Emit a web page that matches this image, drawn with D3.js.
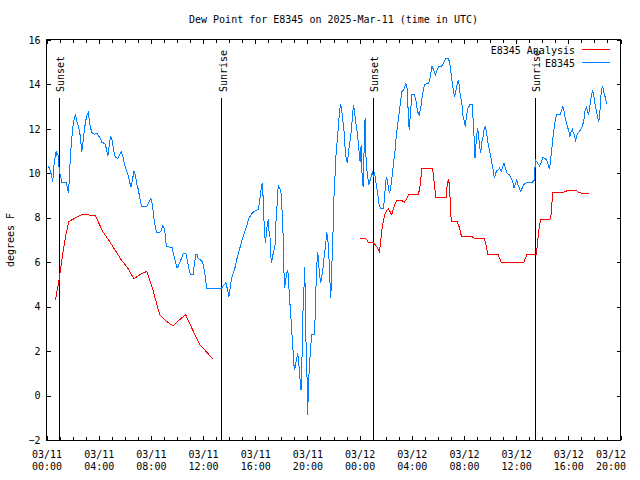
<!DOCTYPE html>
<html><head><meta charset="utf-8">
<script src="https://cdn.jsdelivr.net/npm/d3@7"></script>
<style>body{margin:0;background:#fff}svg{display:block}text{font-family:"DejaVu Sans Mono",monospace;font-size:10px;fill:#000}</style>
</head><body>
<script>
// Hours since 2025-03-11 00:00 UTC
const obsHours = [0.15,0.31,0.41,0.48,0.56,0.67,0.75,0.79,0.87,0.94,1.02,1.18,1.51,1.59,1.69,1.79,1.90,2.02,2.15,2.23,2.33,2.46,2.56,2.67,2.71,2.82,2.92,3.02,3.13,3.20,3.28,3.38,3.51,3.69,3.89,3.99,4.15,4.25,4.48,4.61,4.71,4.82,4.92,5.05,5.12,5.22,5.32,5.45,5.61,5.74,5.86,5.99,6.12,6.24,6.37,6.47,6.58,6.71,6.81,6.91,7.01,7.14,7.27,7.53,7.70,7.86,7.99,8.06,8.16,8.27,8.43,8.68,8.81,8.93,9.06,9.19,9.62,9.75,9.88,10.01,10.14,10.35,10.47,10.68,10.78,10.91,11.04,11.24,11.31,11.44,11.54,11.62,11.81,11.96,12.06,12.19,12.27,13.42,13.54,13.67,13.75,13.85,13.98,14.06,14.19,14.31,14.44,14.57,14.69,14.82,14.95,15.08,15.21,15.34,15.46,15.59,15.72,15.84,15.98,16.11,16.23,16.31,16.41,16.49,16.57,16.64,16.74,16.80,16.84,16.92,17.00,17.05,17.13,17.20,17.26,17.30,17.41,17.51,17.61,17.72,17.76,17.87,17.97,18.07,18.15,18.20,18.26,18.30,18.41,18.49,18.56,18.61,18.72,18.79,18.87,18.95,19.02,19.10,19.18,19.26,19.33,19.41,19.45,19.51,19.56,19.64,19.69,19.74,19.79,19.84,19.89,19.97,20.02,20.07,20.15,20.25,20.33,20.53,20.58,20.64,20.71,20.79,20.84,20.89,20.97,21.02,21.10,21.18,21.27,21.35,21.43,21.48,21.53,21.61,21.68,21.74,21.79,21.84,21.91,21.99,22.04,22.12,22.20,22.30,22.40,22.50,22.56,22.63,22.71,22.81,22.89,22.96,23.06,23.14,23.22,23.33,23.43,23.53,23.61,23.68,23.79,23.89,23.96,24.04,24.12,24.19,24.27,24.32,24.37,24.42,24.45,24.50,24.60,24.71,24.81,24.91,24.98,25.06,25.14,25.25,25.35,25.45,25.52,25.63,25.83,25.91,25.98,26.06,26.14,26.21,26.29,26.37,26.44,26.52,26.60,26.71,26.80,26.90,27.01,27.11,27.24,27.37,27.55,27.63,27.80,27.88,28.01,28.21,28.34,28.44,28.57,28.70,28.82,28.98,29.29,29.42,29.55,29.67,29.80,29.93,30.05,30.24,30.36,30.49,30.62,30.82,30.95,31.05,31.18,31.28,31.39,31.49,31.59,31.67,31.74,31.85,31.93,32.00,32.10,32.20,32.31,32.49,32.62,32.69,32.74,32.80,32.85,32.90,32.97,33.05,33.13,33.20,33.28,33.39,33.46,33.54,33.62,33.72,33.82,33.95,34.05,34.16,34.26,34.33,34.41,34.51,34.62,34.72,34.85,34.97,35.08,35.18,35.31,35.48,35.61,35.74,35.84,35.94,36.04,36.15,36.25,36.35,36.46,36.56,36.71,36.87,37.23,37.40,37.43,37.48,37.56,37.66,37.79,37.92,38.04,38.19,38.33,38.46,38.56,38.63,38.71,38.79,38.89,38.99,39.09,39.35,39.46,39.58,39.66,39.73,39.84,39.94,40.04,40.12,40.22,40.30,40.38,40.48,40.55,40.63,40.73,40.84,40.94,41.07,41.19,41.27,41.37,41.45,41.55,41.63,41.71,41.78,41.86,41.94,42.04,42.14,42.22,42.32,42.40,42.47,42.55,42.63,42.70,42.78,42.88,42.93];
const obsDewF = [10.33,10.07,9.85,9.62,10.3,10.75,11.02,10.83,10.9,10.38,10.03,9.6,9.6,9.37,9.1,10.3,11.35,12.1,12.55,12.63,12.33,12.1,11.8,11.2,10.97,11.5,12.03,12.4,12.67,12.73,12.4,12.03,11.8,11.76,11.8,11.68,11.55,11.38,11.35,11.05,10.78,11.35,11.68,11.43,11.13,10.83,10.72,10.66,10.83,10.97,10.75,10.38,10.15,9.93,9.62,9.37,9.7,10.1,9.93,9.55,9.33,8.95,8.53,8.53,8.53,8.72,8.87,8.8,8.35,7.83,7.33,7.33,7.45,7.65,7.45,6.7,6.67,6.33,6.02,5.73,5.88,6.18,6.4,6.4,6.1,5.73,5.43,5.43,5.8,6.33,6.37,6.18,6.1,6.02,5.73,5.28,4.83,4.83,4.93,5.02,5.08,4.83,4.45,4.75,5.28,5.5,5.73,6.1,6.33,6.63,6.92,7.15,7.38,7.6,7.9,8.05,8.17,8.25,8.3,8.35,8.38,8.65,9.1,9.48,9.52,8.2,7.15,6.85,7.3,7.68,7.93,7.45,7.15,6.25,5.95,6.18,6.47,6.7,8.05,8.95,9.48,9.33,9.18,8.2,7.0,5.57,4.83,5.05,5.5,5.65,5.2,4.53,3.7,2.95,2.35,1.45,1.15,1.45,1.67,1.9,1.52,1.0,0.55,0.25,1.15,2.95,4.75,4.9,5.8,4.45,2.5,0.85,-0.87,0.25,1.3,2.2,2.73,2.73,3.33,4.6,5.8,6.47,6.18,5.73,5.28,5.05,5.35,5.65,6.18,6.55,7.0,7.38,7.15,6.78,5.8,4.98,4.38,5.2,6.55,7.75,9.03,9.93,10.9,11.58,12.33,12.93,13.1,12.85,12.4,11.88,11.13,10.75,10.45,10.9,11.28,11.73,12.4,13.08,12.85,12.4,11.95,11.43,10.97,10.53,11.28,9.93,9.4,10.38,11.73,12.48,11.88,10.53,9.93,9.48,9.7,9.93,10.05,9.85,10.05,9.6,9.25,8.8,8.5,8.43,8.43,8.88,9.48,9.85,9.62,9.33,9.1,9.33,9.62,10.0,10.45,10.97,11.58,12.1,12.63,13.08,13.68,13.75,14.05,13.9,11.95,12.55,13.53,13.53,13.23,12.78,12.63,13.0,13.53,14.0,14.05,14.35,14.83,14.65,14.43,14.65,14.8,14.8,14.88,15.03,15.18,15.18,14.8,14.28,13.75,13.45,13.75,14.05,14.2,13.75,13.45,13.08,12.55,12.4,12.1,12.63,12.93,13.12,13.12,12.55,11.95,11.43,10.68,11.13,11.65,12.03,11.65,11.2,10.9,11.5,11.65,11.95,12.1,11.88,11.43,11.05,10.75,10.38,10.08,9.78,9.93,10.15,10.15,10.23,10.08,10.3,10.45,10.23,10.0,9.93,9.78,9.62,9.33,9.55,9.7,9.48,9.33,9.18,9.33,9.48,9.55,9.6,9.6,9.7,10.08,10.6,10.53,10.45,10.33,10.48,10.72,10.68,10.6,10.38,10.18,10.53,10.97,11.43,11.95,12.33,12.63,12.63,12.78,13.0,12.85,12.55,12.33,12.1,11.88,11.68,11.88,11.98,11.8,11.73,11.43,11.68,11.8,11.88,11.95,12.1,12.4,12.78,12.98,12.85,12.63,12.93,13.3,13.53,13.75,13.53,13.15,12.85,12.63,12.33,12.55,13.3,13.75,13.93,13.68,13.53,13.3,13.12];

const anaHours1 = [0.69,0.87,1.00,1.25,1.51,1.71,2.02,2.40,2.74,3.17,3.30,3.74,4.32,4.84,5.74,6.24,6.70,7.14,7.53,7.70,8.16,8.68,9.06,9.70,10.16,10.68,10.85,11.75,12.13,12.77];
const anaDewF1  = [4.3,4.9,5.35,6.4,7.3,7.83,7.93,8.05,8.15,8.15,8.1,8.1,7.38,6.93,6.1,5.73,5.25,5.43,5.55,5.58,4.75,3.63,3.4,3.13,3.4,3.63,3.4,2.28,2.05,1.63];
const anaHours2 = [24.04,24.50,24.68,25.06,25.37,25.52,25.63,25.71,25.83,25.96,26.09,26.21,26.34,26.47,26.60,26.73,26.86,27.24,27.42,27.57,27.75,27.93,28.52,28.65,28.78,29.59,29.67,29.75,29.85,30.65,30.72,30.82,30.90,30.95,31.03,31.47,31.67,31.80,32.62,32.80,33.56,33.72,33.82,34.59,34.74,34.85,35.69,35.77,36.58,36.71,36.84,37.53,37.61,37.74,37.87,38.59,38.70,38.79,39.66,39.91,40.63,40.81,41.07,41.57];
const anaDewF2  = [7.05,7.05,6.88,6.88,6.65,6.47,7.0,7.45,7.9,8.2,8.35,8.4,8.27,8.13,8.43,8.65,8.77,8.77,8.7,8.8,9.03,9.07,9.07,9.48,10.23,10.23,9.85,9.4,8.92,8.92,9.55,9.73,9.4,8.65,7.83,7.83,7.53,7.18,7.15,7.08,7.08,6.7,6.37,6.37,6.18,6.0,6.0,5.97,5.97,6.18,6.37,6.37,6.7,7.45,7.93,7.93,8.2,9.13,9.15,9.22,9.22,9.13,9.1,9.1];

const sunEvents = [{h:0.98,label:"Sunset"},{h:13.43,label:"Sunrise"},{h:25.03,label:"Sunset"},{h:37.45,label:"Sunrise"}];
const yTicks = [-2,0,2,4,6,8,10,12,14,16];
const titleText = "Dew Point for E8345 on 2025-Mar-11 (time in UTC)";
const legendNames = ["E8345 Analysis","E8345"];

const W=640,H=480, L=46.5, R=620.5, T=40, B=440;
const t0 = Date.UTC(2025,2,11,0,0);
const toDate = h => new Date(t0 + h*3600e3);
const x = d3.scaleUtc().domain([toDate(0), toDate(44)]).range([L,R]);
const y = d3.scaleLinear().domain([-2,16]).range([B,T]);

const svg = d3.select("body").append("svg").attr("width",W).attr("height",H);
svg.append("rect").attr("width",W).attr("height",H).attr("fill","#fff");

// axes
const fmtD = d3.utcFormat("%m/%d"), fmtT = d3.utcFormat("%H:%M");
const majorTicks = x.ticks(d3.utcHour.every(4));
const minorTicks = x.ticks(d3.utcHour.every(1));
svg.append("g").attr("transform",`translate(0,${B})`)
  .call(d3.axisBottom(x).tickValues(minorTicks).tickSize(-3).tickFormat(""));
const gxb2 = svg.append("g").attr("transform",`translate(0,${B})`)
  .call(d3.axisBottom(x).tickValues(majorTicks).tickSize(-4).tickFormat(""));
svg.append("g").attr("transform",`translate(0,${T})`)
  .call(d3.axisTop(x).tickValues(minorTicks).tickSize(-3).tickFormat(""));
svg.append("g").attr("transform",`translate(0,${T})`)
  .call(d3.axisTop(x).tickValues(majorTicks).tickSize(-4).tickFormat(""));
const gyl = svg.append("g").attr("transform",`translate(${L},0)`)
  .call(d3.axisLeft(y).tickValues(yTicks).tickSize(-4).tickPadding(10).tickFormat(d3.format("d")));
svg.append("g").attr("transform",`translate(${R},0)`)
  .call(d3.axisRight(y).tickValues(yTicks).tickSize(-4).tickFormat(""));
svg.selectAll(".domain").remove();
svg.selectAll(".tick line").attr("stroke","#000").attr("shape-rendering","crispEdges");
gyl.selectAll(".tick text").attr("font-family","DejaVu Sans Mono").attr("font-size",10).attr("fill","#000").attr("x",-6);

// two-line x labels (last one kept inside the canvas edge as in the reference)
const lastTick = +majorTicks[majorTicks.length-1];
gxb2.selectAll(".tick").each(function(d){
  const g = d3.select(this);
  g.select("text").remove();
  const dx = (+d === lastTick) ? -10 : 0;
  const t = g.append("text").attr("text-anchor","middle").attr("fill","#000");
  t.append("tspan").attr("x",dx).attr("y",18).text(fmtD(d));
  t.append("tspan").attr("x",dx).attr("y",30).text(fmtT(d));
});

// frame
svg.append("rect").attr("x",L).attr("y",T-0.5).attr("width",R-L).attr("height",B-T+0.5)
  .attr("fill","none").attr("stroke","#000").attr("shape-rendering","crispEdges");

// sun events
sunEvents.forEach(e=>{
  const xx = x(toDate(e.h));
  svg.append("line").attr("x1",xx).attr("x2",xx).attr("y1",98).attr("y2",B)
    .attr("stroke","#000").attr("shape-rendering","crispEdges");
  svg.append("text").attr("transform",`translate(${xx+5},92) rotate(-90)`).text(e.label);
});

// data lines
const line = d3.line().x(d=>x(toDate(d[0]))).y(d=>y(d[1]));
const blue = obsHours.map((h,i)=>[h,obsDewF[i]]);
const red1 = anaHours1.map((h,i)=>[h,anaDewF1[i]]);
const red2 = anaHours2.map((h,i)=>[h,anaDewF2[i]]);
const drawLine = (data,color)=> svg.append("path").attr("d",line(data)).attr("fill","none")
  .attr("stroke",color).attr("stroke-width",1).attr("shape-rendering","crispEdges");
drawLine(red1,"#ff0000");
drawLine(red2,"#ff0000");
drawLine(blue,"#0080ff");

// legend
const legColors = ["#ff0000","#0080ff"];
legendNames.forEach((n,i)=>{
  const yy = 50 + i*13;
  svg.append("text").attr("x",575).attr("y",yy+3.5).attr("text-anchor","end").text(n);
  svg.append("line").attr("x1",582).attr("x2",610).attr("y1",yy-0.5).attr("y2",yy-0.5)
    .attr("stroke",legColors[i]).attr("stroke-width",1).attr("shape-rendering","crispEdges");
});

// title and y label
svg.append("text").attr("x",(L+R)/2).attr("y",23).attr("text-anchor","middle").text(titleText);
svg.append("text").attr("transform",`translate(14,${(T+B)/2}) rotate(-90)`).attr("text-anchor","middle").text("degrees F");
</script>
</body></html>
